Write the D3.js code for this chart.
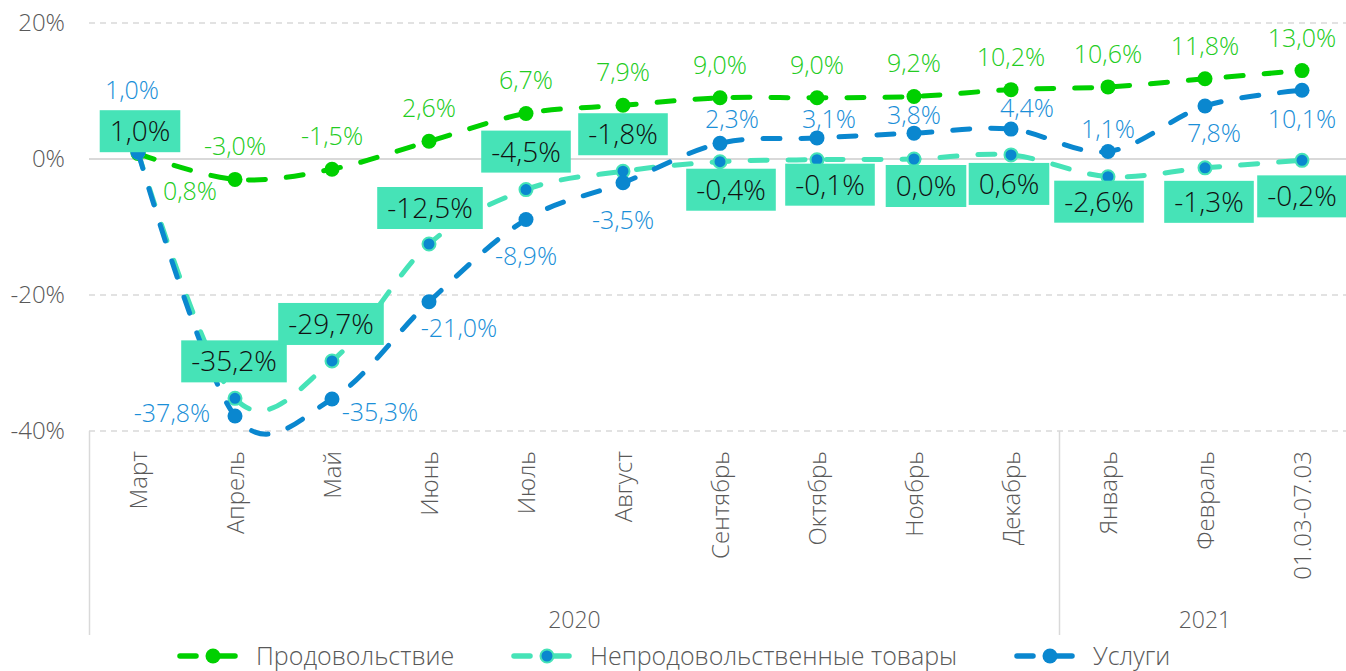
<!DOCTYPE html>
<html>
<head>
<meta charset="utf-8">
<script src="https://cdn.jsdelivr.net/npm/d3@7"></script>
<style>
  html, body { margin: 0; padding: 0; background: #fff; }
  svg { display: block; font-family: "Open Sans", "Noto Sans", sans-serif; font-weight: 300; }
</style>
</head>
<body>
<div id="chart"></div>
<script>
// Динамика по категориям, % к аналогичному периоду

const categories = ["Март", "Апрель", "Май", "Июнь", "Июль", "Август", "Сентябрь",
  "Октябрь", "Ноябрь", "Декабрь", "Январь", "Февраль", "01.03-07.03"];

const yearLabels = ["2020", "2021"];
const yearCounts = [10, 3];

const foodValues     = [0.8, -3.0, -1.5, 2.6, 6.7, 7.9, 9.0, 9.0, 9.2, 10.2, 10.6, 11.8, 13.0];
const nonFoodValues  = [1.0, -35.2, -29.7, -12.5, -4.5, -1.8, -0.4, -0.1, 0.0, 0.6, -2.6, -1.3, -0.2];
const servicesValues = [1.0, -37.8, -35.3, -21.0, -8.9, -3.5, 2.3, 3.1, 3.8, 4.4, 1.1, 7.8, 10.1];

const yTicks = [-40, -20, 0, 20];

const seriesNames = ["Продовольствие", "Непродовольственные товары", "Услуги"];

// label offsets from each point [dx, dy]
const foodLabelOffsets = [[52, 46], [0, -24], [0, -24], [0, -24], [0, -24], [0, -24], [0, -24],
  [0, -24], [0, -24], [0, -24], [0, -24], [0, -24], [0, -24]];
const servicesLabelOffsets = [[-6, -53], [-63, 6], [48, 22], [30, 35], [0, 45], [0, 46], [12, -15],
  [12, -10], [0, -9], [16, -12], [0, -14], [9, 36], [0, 38]];
const nonFoodLabelOffsets = [[2, -21], [-1, -37], [-1, -37], [1, -36], [0, -38], [0, -37], [11, 28],
  [13, 25], [12, 27], [-2, 29], [-9, 25], [4, 34], [0, 36]];

(function () {
  const W = 1346, H = 671;
  const FONT = "'Open Sans', 'Noto Sans', sans-serif";
  const COL_FOOD = "#00d000";
  const COL_FOOD_TXT = "#22cc22";
  const COL_NONFOOD = "#46e3b7";
  const COL_SERV = "#0a87cf";
  const COL_SERV_TXT = "#1a8fd8";
  const COL_GRID = "#d9d9d9";
  const COL_AXIS_TXT = "#595959";

  const locale = d3.formatLocale({ decimal: ",", thousands: " ", grouping: [3], currency: ["", ""], minus: "-" });
  const fmt = v => locale.format(".1f")(v) + "%";

  const svg = d3.select("#chart").append("svg")
    .attr("width", W)
    .attr("height", H);

  svg.append("rect").attr("width", W).attr("height", H).attr("fill", "#fff");

  const x = d3.scaleBand()
    .domain(categories)
    .range([89.5, 1350.5])
    .padding(0);
  const cx = c => x(c) + x.bandwidth() / 2;

  const y = d3.scaleLinear()
    .domain([-40, 20])
    .range([431, 23]);

  // gridlines
  const grid = svg.append("g");
  yTicks.forEach(t => {
    grid.append("line")
      .attr("x1", 89).attr("x2", 1346)
      .attr("y1", y(t)).attr("y2", y(t))
      .attr("stroke", COL_GRID)
      .attr("stroke-width", t === 0 ? 2 : 1.5)
      .attr("stroke-dasharray", t === 0 ? null : "6,5");
  });

  // y axis labels
  const yAxis = svg.append("g")
    .attr("transform", "translate(65,0)")
    .call(d3.axisLeft(y).tickValues(yTicks).tickSize(0).tickPadding(0).tickFormat(d => d + "%"));
  yAxis.attr("font-family", FONT).attr("font-weight", 300);
  yAxis.select(".domain").remove();
  yAxis.selectAll("text")
    .attr("fill", COL_AXIS_TXT)
    .style("font-size", "24px");

  // category labels (rotated)
  const xAxis = svg.append("g")
    .attr("transform", "translate(0,431)")
    .call(d3.axisBottom(x).tickSize(0).tickPadding(0));
  xAxis.attr("font-family", FONT).attr("font-weight", 300);
  xAxis.select(".domain").remove();
  xAxis.selectAll("text")
    .attr("transform", "rotate(-90)")
    .attr("x", -20)
    .attr("y", 0)
    .attr("dy", "0.36em")
    .attr("text-anchor", "end")
    .attr("fill", COL_AXIS_TXT)
    .style("font-size", "24px");

  // year groups
  let idx = 0;
  const bounds = [x(categories[0])];
  yearLabels.forEach((lab, i) => {
    const first = categories[idx];
    const last = categories[idx + yearCounts[i] - 1];
    const x0 = x(first), x1 = x(last) + x.bandwidth();
    svg.append("text")
      .attr("x", (x0 + x1) / 2)
      .attr("y", 628)
      .attr("text-anchor", "middle")
      .attr("fill", COL_AXIS_TXT)
      .style("font-size", "23px")
      .text(lab);
    idx += yearCounts[i];
    if (idx < categories.length) bounds.push(x1);
  });
  bounds.forEach(bx => {
    svg.append("line")
      .attr("x1", bx).attr("x2", bx)
      .attr("y1", 431).attr("y2", 635)
      .attr("stroke", COL_GRID)
      .attr("stroke-width", 1.5);
  });

  const line = d3.line()
    .x((d, i) => cx(categories[i]))
    .y(d => y(d))
    .curve(d3.curveCardinal.tension(0));

  function drawSeries(values, color, fill, stroke) {
    const g = svg.append("g");
    g.append("path")
      .datum(values)
      .attr("d", line)
      .attr("fill", "none")
      .attr("stroke", color)
      .attr("stroke-width", 5)
      .attr("stroke-linecap", "round")
      .attr("stroke-dasharray", "17,21");
    g.selectAll("circle")
      .data(values)
      .join("circle")
      .attr("cx", (d, i) => cx(categories[i]))
      .attr("cy", d => y(d))
      .attr("r", stroke ? 6.5 : 7.5)
      .attr("fill", fill)
      .attr("stroke", stroke || "none")
      .attr("stroke-width", stroke ? 2 : 0);
  }

  drawSeries(foodValues, COL_FOOD, COL_FOOD, null);
  drawSeries(nonFoodValues, COL_NONFOOD, COL_SERV, COL_NONFOOD);
  drawSeries(servicesValues, COL_SERV, COL_SERV, null);

  // plain labels
  function plainLabels(values, offsets, color) {
    const g = svg.append("g");
    values.forEach((v, i) => {
      const [dx, dy] = offsets[i];
      g.append("text")
        .attr("x", cx(categories[i]) + dx)
        .attr("y", y(v) + dy)
        .attr("text-anchor", "middle")
        .attr("fill", color)
        .style("font-size", "25px")
        .text(fmt(v));
    });
  }
  plainLabels(foodValues, foodLabelOffsets, COL_FOOD_TXT);
  plainLabels(servicesValues, servicesLabelOffsets, COL_SERV_TXT);

  // boxed labels for non-food
  const boxG = svg.append("g");
  nonFoodValues.forEach((v, i) => {
    const [dx, dy] = nonFoodLabelOffsets[i];
    const px = cx(categories[i]) + dx;
    const py = y(v) + dy;
    const lg = boxG.append("g");
    const rect = lg.append("rect").attr("fill", COL_NONFOOD);
    const t = lg.append("text")
      .attr("x", px)
      .attr("y", py)
      .attr("dy", "0.36em")
      .attr("text-anchor", "middle")
      .attr("fill", "#111")
      .style("font-size", "28px")
      .text(fmt(v));
    const bw = t.node().getBBox().width + 20;
    rect.attr("x", px - bw / 2).attr("y", py - 21).attr("width", bw).attr("height", 42);
  });

  // legend
  const legend = svg.append("g").attr("transform", "translate(0,656)");
  const legendItems = [
    { name: seriesNames[0], x: 177, line: COL_FOOD, fill: COL_FOOD, stroke: null },
    { name: seriesNames[1], x: 511, line: COL_NONFOOD, fill: COL_SERV, stroke: COL_NONFOOD },
    { name: seriesNames[2], x: 1014, line: COL_SERV, fill: COL_SERV, stroke: null }
  ];
  legendItems.forEach(it => {
    const g = legend.append("g").attr("transform", `translate(${it.x},0)`);
    g.append("line").attr("x1", 3).attr("x2", 19).attr("y1", 0).attr("y2", 0)
      .attr("stroke", it.line).attr("stroke-width", 5.5).attr("stroke-linecap", "round");
    g.append("line").attr("x1", 38).attr("x2", 58).attr("y1", 0).attr("y2", 0)
      .attr("stroke", it.line).attr("stroke-width", 5.5).attr("stroke-linecap", "round");
    g.append("circle").attr("cx", 36).attr("cy", 0).attr("r", it.stroke ? 6.5 : 7.5)
      .attr("fill", it.fill)
      .attr("stroke", it.stroke || "none")
      .attr("stroke-width", it.stroke ? 2 : 0);
    g.append("text")
      .attr("x", 79)
      .attr("y", 0)
      .attr("dy", "0.36em")
      .attr("fill", COL_AXIS_TXT)
      .style("font-size", "25px")
      .text(it.name);
  });
})();
</script>
</body>
</html>
